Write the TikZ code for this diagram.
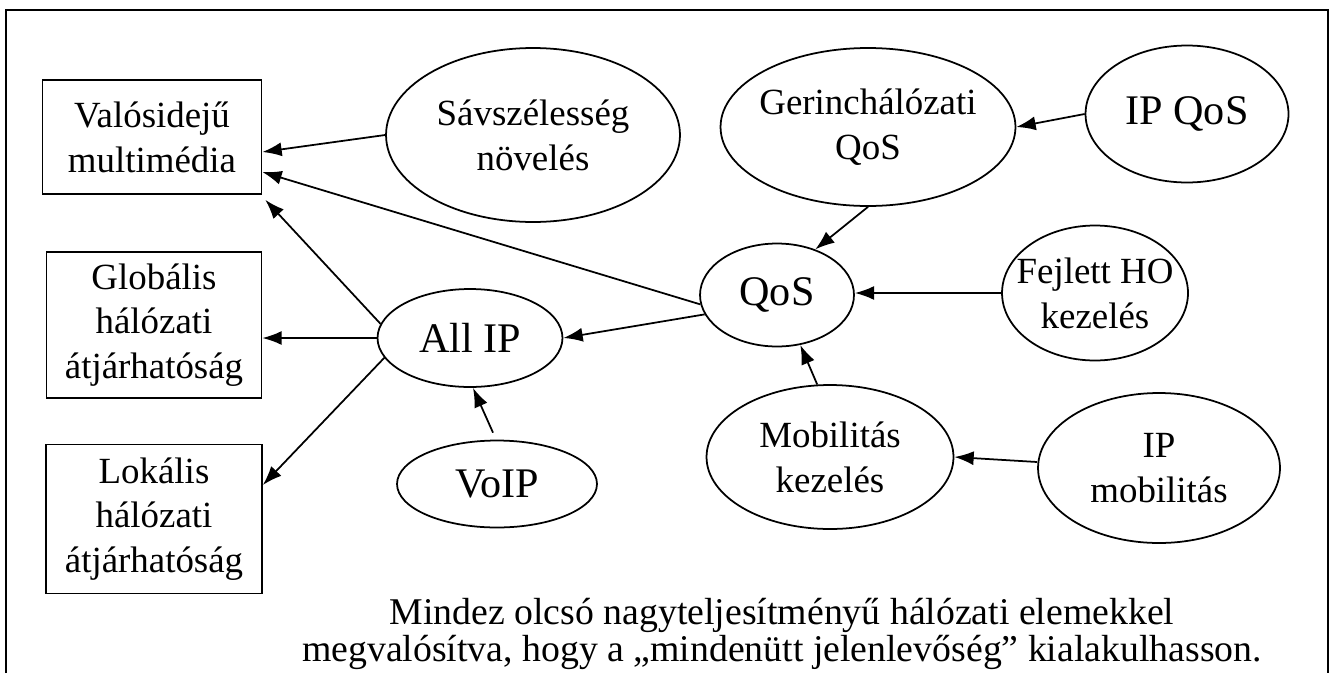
\documentclass[tikz,border=0pt]{standalone}
\usepackage{fontspec}
\setmainfont{Liberation Serif}
\usetikzlibrary{shapes.geometric,arrows.meta}
\newcommand{\lblfont}{\fontsize{21}{25.5}\selectfont}
\newcommand{\bigfont}{\fontsize{24}{28}\selectfont}
\begin{document}
\begin{tikzpicture}[x=0.02cm, y=-0.02cm,
    box/.style={draw, line width=1pt, align=center, font=\lblfont, inner sep=0pt},
    ell/.style={draw, ellipse, line width=1pt, inner sep=0pt},
    txt/.style={align=center, font=\lblfont},
    bigtxt/.style={align=center, font=\bigfont},
    arr/.style={-{Latex[length=11pt,width=8pt]}, line width=1pt}]
    \useasboundingbox (0,0) rectangle (1334,673);
    \draw[line width=1pt] (6,673) -- (6,10) -- (1328,10) -- (1328,673);

    \node[box, minimum width=4.38cm, minimum height=2.28cm] (rt) at (152,137) {Valósidejű\\multimédia};
    \node[box, minimum width=4.3cm, minimum height=2.92cm] (glob) at (154,325) {Globális\\hálózati\\átjárhatóság};
    \node[box, minimum width=4.32cm, minimum height=2.98cm] (lok) at (154,519) {Lokális\\hálózati\\átjárhatóság};

    \node[ell, minimum width=5.88cm, minimum height=3.48cm, label={[txt]center:Sávszélesség\\növelés}] (sav) at (533,135) {};
    \node[ell, minimum width=5.9cm, minimum height=3.16cm, label={[txt]center:Gerinchálózati\\QoS}] (gerinc) at (868,127) {};
    \node[ell, minimum width=4.06cm, minimum height=2.74cm, label={[bigtxt]center:IP QoS}] (ipqos) at (1187,114) {};
    \node[ell, minimum width=3.08cm, minimum height=2.06cm, label={[bigtxt]center:QoS}] (qos) at (777,295) {};
    \node[ell, minimum width=3.72cm, minimum height=2.7cm, label={[txt]center:Fejlett HO\\kezelés}] (fejlett) at (1095,293) {};
    \node[ell, minimum width=3.7cm, minimum height=1.96cm, label={[bigtxt]center:All IP}] (allip) at (470,338) {};
    \node[ell, minimum width=4cm, minimum height=1.74cm, label={[bigtxt]center:VoIP}] (voip) at (497,484) {};
    \node[ell, minimum width=4.94cm, minimum height=2.88cm, label={[txt]center:Mobilitás\\kezelés}] (mob) at (830,457) {};
    \node[ell, minimum width=4.84cm, minimum height=3cm, label={[txt]center:IP\\mobilitás}] (ipmob) at (1159,468) {};

    \node[txt, font=\fontsize{21.5}{19}\selectfont] (note) at (782,634) {Mindez olcsó nagyteljesítményű hálózati elemekkel\\megvalósítva, hogy a „mindenütt jelenlevőség” kialakulhasson.};

    \draw[arr] (sav.west) -- ([yshift=-0.3cm]rt.east);
    \draw[arr] (qos.187) -- ([yshift=-0.7cm]rt.east);
    \draw[arr] (allip.171) -- ([shift={(3,5)}]rt.south east);
    \draw[arr] (allip.west) -- (allip.west -| glob.east);
    \draw[arr] (allip.193) -- ([yshift=0.68cm]lok.east);
    \draw[arr] (qos.195) -- (allip.east);
    \draw[arr] ([shift={(-4,-7)}]voip.north) -- ([xshift=0.06cm]allip.south);
    \draw[arr] (gerinc.south) -- (qos.50);
    \draw[arr] (ipqos.west) -- (gerinc.east);
    \draw[arr] (fejlett.west) -- (fejlett.west -| qos.east);
    \draw[arr] (mob.100) -- (qos.295);
    \draw[arr] ([yshift=0.12cm]ipmob.west) -- (mob.east);
\end{tikzpicture}
\end{document}
